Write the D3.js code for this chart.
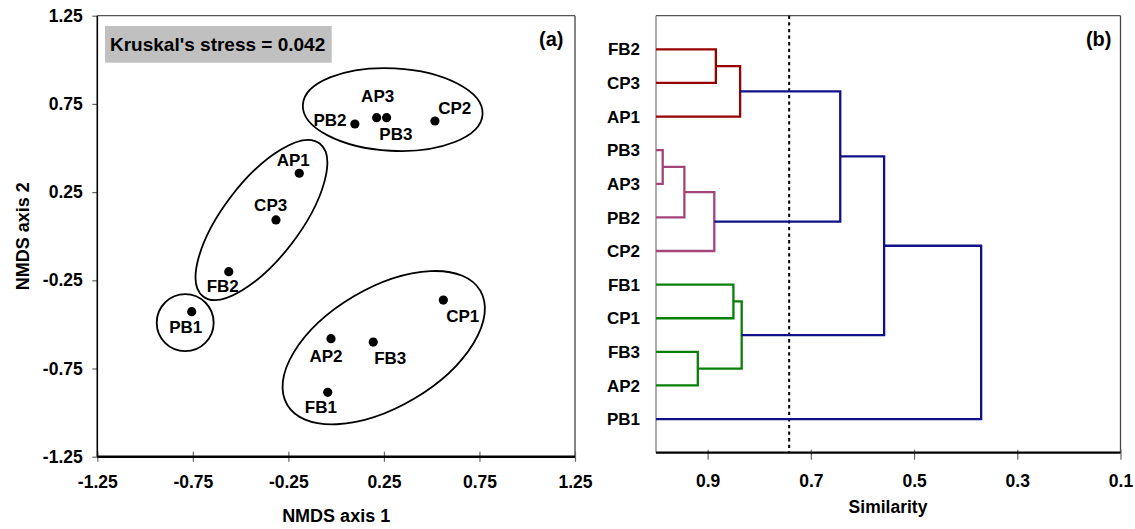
<!DOCTYPE html>
<html>
<head>
<meta charset="utf-8">
<script src="https://cdn.jsdelivr.net/npm/d3@7"></script>
<style>
  body { margin: 0; background: #fff; }
  text { font-family: "Liberation Sans", Arial, sans-serif; font-weight: bold; fill: #000; }
</style>
</head>
<body>
<svg id="chart" width="1135" height="529"></svg>
<script>
// ---- NMDS ordination scores ----
const samples = ["PB2", "AP3", "PB3", "CP2", "AP1", "CP3", "FB2", "PB1", "CP1", "AP2", "FB3", "FB1"];
const axis1 = [0.098, 0.212, 0.264, 0.517, -0.193, -0.315, -0.562, -0.756, 0.561, -0.027, 0.194, -0.044];
const axis2 = [0.636, 0.672, 0.672, 0.653, 0.357, 0.092, -0.201, -0.428, -0.362, -0.581, -0.600, -0.885];
const nmdsTicks = [-1.25, -0.75, -0.25, 0.25, 0.75, 1.25];
const stress = 0.042;

// cluster outlines: centre (axis units), semi-axes (axis-1 units), tilt in degrees
const groupCx = [0.296, -0.391, -0.790, 0.249];
const groupCy = [0.718, 0.092, -0.490, -0.632];
const groupA = [0.471, 0.503, 0.149, 0.587];
const groupB = [0.216, 0.201, 0.149, 0.311];
const groupTilt = [3, -52.7, 0, -30.6];

// ---- cluster dendrogram (similarity) ----
const leaves = ["FB2", "CP3", "AP1", "PB3", "AP3", "PB2", "CP2", "FB1", "CP1", "FB3", "AP2", "PB1"];
// merge k creates node "m{k+1}"
const mergeA = ["FB2", "m1", "PB3", "m3", "m4", "FB1", "FB3", "m6", "m2", "m9", "m10"];
const mergeB = ["CP3", "AP1", "AP3", "PB2", "CP2", "CP1", "AP2", "m7", "m5", "m8", "PB1"];
const mergeSim = [0.884, 0.837, 0.987, 0.945, 0.887, 0.850, 0.919, 0.834, 0.643, 0.558, 0.370];
const mergeGroup = ["I", "I", "II", "II", "II", "III", "III", "III", "link", "link", "link"];
const simTicks = [0.9, 0.7, 0.5, 0.3, 0.1];
const cutoff = 0.742;

const groupColor = { I: "#960000", II: "#a3447a", III: "#078007", link: "#10108a" };

const svg = d3.select("#chart");

// ================= panel (a): NMDS =================
const L = { left: 97.3, right: 575, top: 15.7, bottom: 456.7 };
const x = d3.scaleLinear().domain([-1.25, 1.25]).range([L.left, L.right]);
const y = d3.scaleLinear().domain([-1.25, 1.25]).range([L.bottom, L.top]);
const pa = svg.append("g");

// frame: top and right edges
pa.append("line").attr("x1", L.left).attr("x2", L.right).attr("y1", L.top).attr("y2", L.top)
  .attr("stroke", "#555").attr("stroke-width", 1.3);
pa.append("line").attr("x1", L.right).attr("x2", L.right).attr("y1", L.top).attr("y2", L.bottom)
  .attr("stroke", "#444").attr("stroke-width", 1.3);

const fmt = d => (d < 0 ? "-" : "") + Math.abs(d).toFixed(2);

const xAx = pa.append("g").attr("transform", `translate(0,${L.bottom})`)
  .call(d3.axisBottom(x).tickValues(nmdsTicks).tickSize(5).tickFormat(fmt));
xAx.select(".domain").remove();
xAx.selectAll(".tick line").attr("y1", -5).attr("stroke", "#666").attr("stroke-width", 1.2);
xAx.selectAll(".tick text").attr("y", 31.5).attr("dy", null).style("font-size", "17.5px");

const yAx = pa.append("g").attr("transform", `translate(${L.left},0)`)
  .call(d3.axisLeft(y).tickValues(nmdsTicks).tickSize(5).tickPadding(9.6).tickFormat(fmt));
yAx.select(".domain").remove();
yAx.selectAll(".tick line").attr("stroke", "#666").attr("stroke-width", 1.2);
yAx.selectAll(".tick text").style("font-size", "17.5px");

// axis lines
pa.append("line").attr("x1", L.left).attr("x2", L.left).attr("y1", L.top).attr("y2", L.bottom)
  .attr("stroke", "#000").attr("stroke-width", 1.6);
pa.append("line").attr("x1", L.left).attr("x2", L.right).attr("y1", L.bottom).attr("y2", L.bottom)
  .attr("stroke", "#000").attr("stroke-width", 2.4);

// stress box
pa.append("rect").attr("x", 105).attr("y", 26).attr("width", 226.7).attr("height", 36.7).attr("fill", "#c0c0c0");
pa.append("text").attr("x", 110).attr("y", 50.5).style("font-size", "19px")
  .text(`Kruskal's stress = ${stress.toFixed(3)}`);

pa.append("text").attr("x", 563.5).attr("y", 46).attr("text-anchor", "end").style("font-size", "20px").text("(a)");

// cluster ellipses
const pxPerUnit = x(1) - x(0);
groupCx.forEach((cx, i) => {
  pa.append("ellipse")
    .attr("transform", `translate(${x(cx)},${y(groupCy[i])}) rotate(${groupTilt[i]})`)
    .attr("rx", groupA[i] * pxPerUnit).attr("ry", groupB[i] * pxPerUnit)
    .attr("fill", "none").attr("stroke", "#000").attr("stroke-width", 1.8);
});

// points
const pts = samples.map((s, i) => ({ s, a: axis1[i], b: axis2[i] }));
pa.selectAll("circle.pt").data(pts).join("circle").attr("class", "pt")
  .attr("cx", d => x(d.a)).attr("cy", d => y(d.b)).attr("r", 4.6).attr("fill", "#000");

// label placement around each point: [dx, dy, anchor]
const labelPlace = {
  PB2: [-8.3, 1.8, "end"], AP3: [1, -15.4, "middle"], PB3: [9.3, 22.3, "middle"],
  CP2: [3.3, -7, "start"], AP1: [-6, -7.3, "middle"], CP3: [-5.3, -9.3, "middle"],
  FB2: [-6, 20.6, "middle"], PB1: [-5.9, 21.6, "middle"], CP1: [19.4, 21.7, "middle"],
  AP2: [-5, 23, "middle"], FB3: [17, 22, "middle"], FB1: [-6.9, 21, "middle"]
};
pa.selectAll("text.lab").data(pts).join("text").attr("class", "lab")
  .attr("x", d => x(d.a) + labelPlace[d.s][0])
  .attr("y", d => y(d.b) + labelPlace[d.s][1])
  .attr("text-anchor", d => labelPlace[d.s][2])
  .style("font-size", "17px").text(d => d.s);

pa.append("text").attr("x", (L.left + L.right) / 2).attr("y", 522).attr("text-anchor", "middle")
  .style("font-size", "18px").text("NMDS axis 1");
pa.append("text").attr("transform", `translate(29,${(L.top + L.bottom) / 2}) rotate(-90)`)
  .attr("text-anchor", "middle").style("font-size", "18px").text("NMDS axis 2");

// ================= panel (b): dendrogram =================
const R = { left: 656, right: 1120.5, top: 15.7, bottom: 452.7 };
const sx = d3.scaleLinear().domain([1.0, 0.1]).range([R.left, R.right]);
const sy = d3.scalePoint().domain(leaves).range([R.top, R.bottom]).padding(1);
const pb = svg.append("g");

pb.append("line").attr("x1", R.left).attr("x2", R.right).attr("y1", R.top).attr("y2", R.top)
  .attr("stroke", "#555").attr("stroke-width", 1.3);
pb.append("line").attr("x1", R.right).attr("x2", R.right).attr("y1", R.top).attr("y2", R.bottom)
  .attr("stroke", "#444").attr("stroke-width", 1.3);
pb.append("line").attr("x1", R.left).attr("x2", R.left).attr("y1", R.top).attr("y2", R.bottom)
  .attr("stroke", "#777").attr("stroke-width", 1.2);

const sAx = pb.append("g").attr("transform", `translate(0,${R.bottom})`)
  .call(d3.axisBottom(sx).tickValues(simTicks).tickSize(7).tickFormat(d3.format(".1f")));
sAx.select(".domain").remove();
sAx.selectAll(".tick line").attr("y1", -3).attr("stroke", "#666").attr("stroke-width", 1.2);
sAx.selectAll(".tick text").attr("y", 34).attr("dy", null).style("font-size", "17.5px");
pb.append("line").attr("x1", R.left).attr("x2", R.right).attr("y1", R.bottom).attr("y2", R.bottom)
  .attr("stroke", "#000").attr("stroke-width", 2.2);

// similarity cut-off
pb.append("line").attr("x1", sx(cutoff)).attr("x2", sx(cutoff)).attr("y1", R.top).attr("y2", R.bottom)
  .attr("stroke", "#000").attr("stroke-width", 2).attr("stroke-dasharray", "3.3,3.3");

// node positions
const node = {};
leaves.forEach(l => { node[l] = { x: sx(1.0), y: sy(l) }; });
mergeSim.forEach((s, i) => {
  const a = node[mergeA[i]], b = node[mergeB[i]];
  const nx = sx(s);
  const col = groupColor[mergeGroup[i]];
  const path = d3.path();
  path.moveTo(a.x, a.y); path.lineTo(nx, a.y); path.lineTo(nx, b.y); path.lineTo(b.x, b.y);
  pb.append("path").attr("d", path.toString()).attr("fill", "none")
    .attr("stroke", col).attr("stroke-width", 2.3).attr("stroke-linejoin", "miter");
  node["m" + (i + 1)] = { x: nx, y: (a.y + b.y) / 2 };
});

pb.selectAll("text.leaf").data(leaves).join("text").attr("class", "leaf")
  .attr("x", 640).attr("y", d => sy(d)).attr("dy", "0.36em").attr("text-anchor", "end")
  .style("font-size", "17px").text(d => d);

pb.append("text").attr("x", 1111.5).attr("y", 46).attr("text-anchor", "end").style("font-size", "20px").text("(b)");
pb.append("text").attr("x", 888).attr("y", 513).attr("text-anchor", "middle")
  .style("font-size", "17.5px").text("Similarity");
</script>
</body>
</html>
